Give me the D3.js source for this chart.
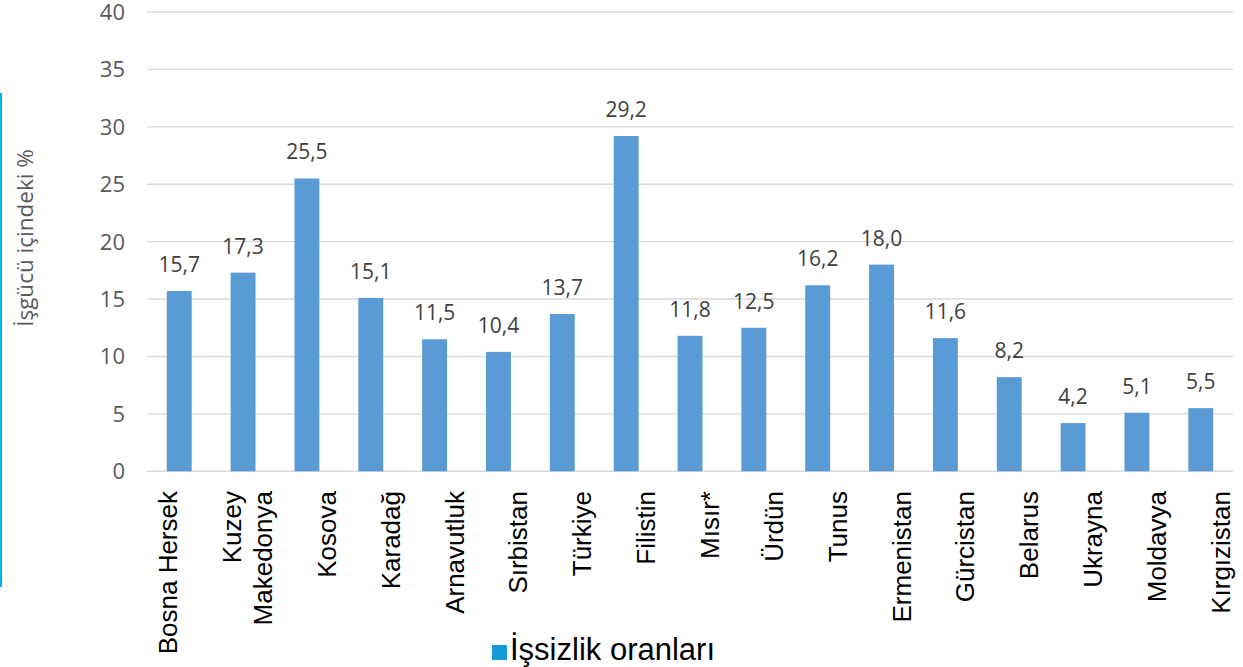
<!DOCTYPE html>
<html>
<head>
<meta charset="utf-8">
<script src="https://cdn.jsdelivr.net/npm/d3@7"></script>
<style>
  body { margin: 0; background: #fff; }
  svg { display: block; }
</style>
</head>
<body>
<svg id="chart" width="1243" height="667"></svg>
<script>
// ulke isimleri (etiket satirlari) ve oranlar
var countries = ["Bosna Hersek", "Kuzey Makedonya", "Kosova", "Karadağ", "Arnavutluk", "Sırbistan",
  "Türkiye", "Filistin", "Mısır*", "Ürdün", "Tunus", "Ermenistan", "Gürcistan", "Belarus",
  "Ukrayna", "Moldavya", "Kırgızistan"];
var labelLines = [["Bosna Hersek", ""], ["Kuzey", "Makedonya"], ["Kosova"], ["Karadağ"], ["Arnavutluk"],
  ["Sırbistan"], ["Türkiye"], ["Filistin"], ["Mısır*"], ["Ürdün"], ["Tunus"], ["Ermenistan"],
  ["Gürcistan"], ["Belarus"], ["Ukrayna"], ["Moldavya"], ["Kırgızistan"]];
var rates = [15.7, 17.3, 25.5, 15.1, 11.5, 10.4, 13.7, 29.2, 11.8, 12.5, 16.2, 18.0, 11.6, 8.2, 4.2, 5.1, 5.5];
var yTicks = [0, 5, 10, 15, 20, 25, 30, 35, 40];
var seriesName = "İşsizlik oranları";
var yTitle = "İşgücü içindeki %";

var data = countries.map((c, i) => ({ name: c, value: rates[i], lines: labelLines[i] }));

var svg = d3.select('svg#chart');

var x = d3.scaleBand()
  .domain(countries)
  .range([147.3, 1232.7])
  .paddingInner(0.61)
  .paddingOuter(0.305);

var y = d3.scaleLinear()
  .domain([0, 40])
  .range([471.3, 12]);

// grid lines
svg.append('g').selectAll('line').data(yTicks).enter().append('line')
  .attr('x1', 147)
  .attr('x2', 1233)
  .attr('y1', d => y(d))
  .attr('y2', d => y(d))
  .attr('stroke', '#d9d9d9')
  .attr('stroke-width', 1.4);

// y axis labels
svg.append('g').selectAll('text').data(yTicks).enter().append('text')
  .attr('x', 125)
  .attr('y', d => y(d))
  .attr('dy', '0.36em')
  .attr('text-anchor', 'end')
  .attr('font-family', 'Open Sans')
  .attr('font-size', 22)
  .attr('fill', '#595959')
  .text(d => d);

// bars
svg.append('g').selectAll('rect').data(data).enter().append('rect')
  .attr('x', d => x(d.name))
  .attr('y', d => y(d.value))
  .attr('width', x.bandwidth())
  .attr('height', d => y(0) - y(d.value))
  .attr('fill', '#5b9bd5');

// data labels
svg.append('g').selectAll('text').data(data).enter().append('text')
  .attr('x', d => x(d.name) + x.bandwidth() / 2)
  .attr('y', d => y(d.value) - 19)
  .attr('text-anchor', 'middle')
  .attr('font-family', 'Open Sans')
  .attr('font-size', 21)
  .attr('fill', '#404040')
  .text(d => d.value.toFixed(1).replace('.', ','));

// category labels, rotated
var cats = svg.append('g').selectAll('g').data(data).enter().append('g')
  .attr('transform', d => 'translate(' + (x(d.name) + x.bandwidth() / 2) + ',491) rotate(-90)');

cats.each(function(d) {
  var n = d.lines.length;
  d3.select(this).selectAll('text').data(d.lines).enter().append('text')
    .attr('x', 0)
    .attr('y', (l, i) => 29 - (n - 1 - i) * 31)
    .attr('text-anchor', 'end')
    .attr('font-family', 'Liberation Sans, Arial, sans-serif')
    .attr('font-size', 26)
    .attr('fill', '#000')
    .text(l => l);
});

// y axis title
svg.append('text')
  .attr('transform', 'translate(33,238) rotate(-90)')
  .attr('text-anchor', 'middle')
  .attr('font-family', 'Open Sans')
  .attr('font-size', 22.5)
  .attr('fill', '#595959')
  .text(yTitle);

// blue line at left edge
svg.append('line')
  .attr('x1', 1)
  .attr('x2', 1)
  .attr('y1', 93)
  .attr('y2', 587)
  .attr('stroke', '#00b0f0')
  .attr('stroke-width', 2);

// legend
svg.append('rect')
  .attr('x', 492)
  .attr('y', 645)
  .attr('width', 15)
  .attr('height', 15)
  .attr('fill', '#159bd8');

svg.append('text')
  .attr('x', 510)
  .attr('y', 660)
  .attr('font-family', 'Liberation Sans, Arial, sans-serif')
  .attr('font-size', 31)
  .attr('fill', '#000')
  .text(seriesName);
</script>
</body>
</html>
